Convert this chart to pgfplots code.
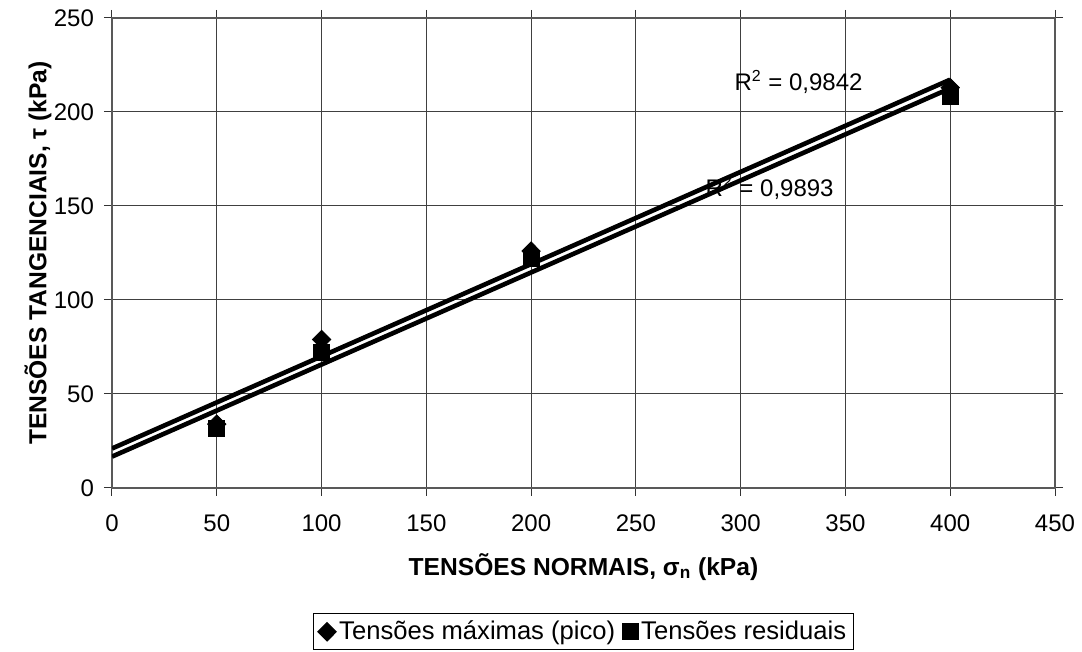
\documentclass[border=0pt]{standalone}
\usepackage{fontspec}
\setmainfont{Liberation Sans}
\usepackage{pgfplots}
\usepackage{pgfplotstable}
\pgfplotsset{compat=1.18}

\pgfplotstableread{
x y
50 34
100 79
200 126
400 213
}\pico
\pgfplotstableread{
x y
50 31.5
100 72
200 122
400 208.5
}\resid
\pgfplotstableread{
x y
0 21.0
400 217.2
}\picofit
\pgfplotstableread{
x y
0 16.7
400 212.6
}\residfit

\begin{document}
\begin{tikzpicture}
\useasboundingbox (-56pt,-82pt) rectangle (485pt,244pt);
\begin{axis}[
  at={(0,0)}, anchor=south west,
  scale only axis, width=471.5pt, height=235pt,
  xmin=0, xmax=450, ymin=0, ymax=250,
  xtick={0,50,...,450}, ytick={0,50,...,250},
  grid=major,
  major grid style={black!75, line width=0.5pt},
  axis line style={black!65, line width=0.7pt},
  tick align=outside, major tick length=4pt,
  tick style={black!80, line width=0.5pt},
  ticklabel style={font=\fontsize{12}{14}\selectfont},
  xticklabel style={yshift=-6pt},
  yticklabel style={xshift=-1.5pt},
  /pgf/number format/assume math mode=true,
  xlabel={\bfseries TENSÕES NORMAIS, σ\textsubscript{n} (kPa)},
  ylabel={\bfseries TENSÕES TANGENCIAIS, τ (kPa)},
  label style={font=\fontsize{12.3}{14}\selectfont},
  xlabel style={at={(axis description cs:0.5,-0.168)}, anchor=center},
  ylabel style={at={(axis description cs:-0.0785,0.5)}, anchor=center},
  legend columns=2,
  legend style={at={(axis description cs:0.5,-0.306)}, anchor=center,
    draw=black, line width=0.5pt, font=\fontsize{12.8}{15}\selectfont,
    /tikz/every even column/.append style={column sep=2pt},
    inner sep=2pt, nodes={inner sep=1.5pt}},
  legend image code/.code={\draw[mark repeat=2,mark phase=2] plot coordinates {(0pt,0pt) (5pt,0pt) (10pt,0pt)};},
  legend cell align=left,
]
\addplot[black, line width=2.3pt, forget plot] table[x=x,y=y] {\picofit};
\addplot[black, line width=2.3pt, forget plot] table[x=x,y=y] {\residfit};
\addplot[only marks, mark=diamond*, mark size=4.6pt, black, fill=black,
  every mark/.append style={xscale=1.33}] table[x=x,y=y] {\pico};
\addlegendentry{Tensões máximas (pico)}
\addplot[only marks, mark=square*, mark size=4pt, black, fill=black] table[x=x,y=y] {\resid};
\addlegendentry{Tensões residuais}
\node[font=\fontsize{12}{14}\selectfont] at (axis cs:327.6,216) {R\textsuperscript{2} = 0,9842};
\node[font=\fontsize{12}{14}\selectfont] at (axis cs:313.8,159.6) {R\textsuperscript{2} = 0,9893};
\end{axis}
\end{tikzpicture}
\end{document}
